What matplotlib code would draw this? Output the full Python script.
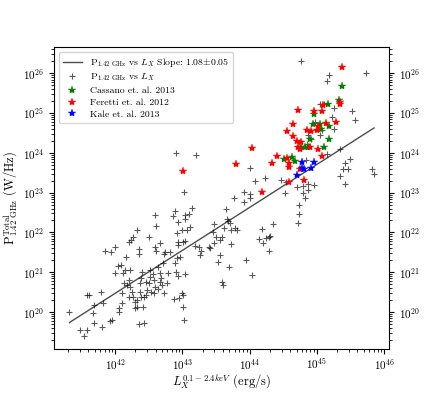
import numpy as np
import matplotlib
matplotlib.use("Agg")
import matplotlib.pyplot as plt

# log10 values
# radio halo / relic sample: log10 L_X (erg/s) and log10 P_1.4GHz (W/Hz)
lx_all = [
    41.32, 41.48, 41.58, 41.53, 41.58, 41.61, 41.67, 41.68, 41.69, 41.79,
    41.82, 41.81, 41.85, 41.94, 41.99, 41.93, 41.95, 41.99, 42.04, 42.09,
    42.10, 42.10, 42.05, 42.06, 42.12, 42.15, 42.16, 42.22, 42.13, 42.18,
    42.20, 42.22, 42.21, 42.25, 42.27, 42.30, 42.32, 42.30, 42.32, 42.37,
    42.37, 42.38, 42.21, 42.23, 42.27, 42.33, 42.36, 42.36, 42.36, 42.43,
    42.42, 42.43, 42.46, 42.47, 42.50, 42.46, 42.40, 42.38, 42.52, 42.58,
    42.59, 42.58, 42.53, 42.56, 42.52, 42.63, 42.59, 42.60, 42.51, 42.59,
    42.60, 42.64, 42.66, 42.67, 42.68, 42.71, 42.73, 42.73, 42.67, 42.74,
    42.81, 42.69, 42.77, 42.79, 42.86, 42.89, 42.91, 42.87, 42.89, 42.91,
    42.92, 42.92, 42.93, 42.94, 42.94, 42.93, 42.95, 42.99, 43.01, 43.03,
    43.01, 43.04, 42.97, 42.99, 43.01, 43.04, 43.04, 43.03, 43.07, 43.04,
    43.10, 43.12, 43.15, 43.20, 43.19, 43.24, 43.27, 43.26, 43.39, 43.41,
    43.45, 43.47, 43.47, 43.50, 43.53, 43.56, 43.56, 43.59, 43.60, 43.59,
    43.62, 43.65, 43.67, 43.68, 43.69, 43.72, 43.71, 43.73, 43.77, 43.78,
    43.81, 43.91, 44.00, 44.00, 44.01, 43.91, 44.08, 44.14, 43.95, 44.03,
    44.23, 44.46, 44.54, 44.53, 44.70, 44.79, 44.87, 44.96, 44.87, 44.79,
    44.82, 44.74, 44.74, 44.72, 44.19, 44.35, 44.25, 44.29, 44.31, 44.20,
    44.29, 44.77, 45.18, 45.15, 45.73, 45.05, 45.11, 45.25, 45.22, 45.52,
    45.56, 44.97, 45.07, 45.26, 44.87, 44.92, 44.86, 45.04, 44.84, 45.34,
    45.15, 45.49, 45.42, 45.39, 45.47, 45.34, 45.42, 45.82, 45.85,
]
p_all = [
    20.01, 19.55, 19.55, 19.40, 20.43, 20.43, 19.97, 20.18, 19.73, 20.50,
    20.23, 19.63, 21.53, 21.50, 21.64, 19.78, 19.80, 20.97, 21.16, 21.18,
    20.47, 20.22, 20.09, 20.01, 20.97, 21.06, 21.39, 21.06, 20.72, 20.68,
    20.38, 20.64, 20.80, 20.51, 20.38, 20.26, 20.13, 20.09, 20.30, 20.74,
    20.51, 20.38, 21.77, 21.81, 21.89, 22.06, 21.58, 21.47, 19.69, 19.72,
    20.13, 20.37, 20.43, 20.55, 20.74, 20.76, 21.01, 20.85, 21.06, 20.80,
    20.64, 20.49, 20.51, 20.95, 20.89, 20.57, 22.44, 22.16, 21.89, 21.64,
    21.54, 21.14, 20.97, 20.76, 20.85, 21.22, 21.47, 20.49, 21.73, 21.52,
    21.52, 20.68, 20.74, 20.97, 22.41, 22.54, 23.99, 20.33, 21.22, 21.01,
    21.35, 21.98, 22.27, 21.77, 21.68, 20.90, 20.34, 20.49, 20.13, 19.80,
    20.44, 20.95, 21.39, 22.06, 21.77, 22.35, 22.45, 23.02, 22.06, 21.78,
    22.46, 22.14, 22.61, 23.94, 21.67, 21.64, 21.54, 21.43, 21.64, 21.60,
    22.02, 22.21, 21.73, 21.89, 21.26, 21.81, 21.43, 21.89, 20.68, 20.76,
    22.10, 22.58, 22.35, 22.29, 21.14, 21.71, 22.23, 22.06, 22.86, 22.10,
    22.06, 23.02, 23.62, 22.96, 22.86, 22.77, 23.30, 21.83, 21.31, 20.93,
    23.38, 23.33, 23.26, 22.98, 23.15, 23.17, 23.21, 23.19, 23.08, 23.00,
    22.86, 22.69, 22.46, 22.24, 22.09, 22.21, 21.87, 21.89, 21.91, 21.73,
    21.54, 26.31, 25.97, 25.80, 26.00, 25.24, 25.24, 25.14, 24.91, 25.05,
    24.84, 24.78, 24.57, 24.59, 24.45, 24.35, 24.22, 24.45, 23.82, 24.10,
    23.97, 23.84, 23.74, 23.59, 23.59, 23.42, 23.23, 23.59, 23.48,
]

# Cassano et al. 2013
lx_cassano = [45.37, 45.33, 45.16, 44.96, 44.94, 45.04, 45.06, 45.18, 45.18,
              44.90, 44.77, 44.82, 44.87, 45.11, 44.51, 44.63, 44.67]
p_cassano = [25.69, 25.33, 25.24, 24.99, 24.72, 24.72, 24.60, 24.67, 24.34,
             24.36, 24.15, 24.14, 24.15, 24.15, 23.86, 23.90, 23.79]

# Feretti et al. 2012
lx_feretti = [45.38, 44.72, 44.95, 45.07, 45.34, 45.34, 45.09, 44.65, 44.56,
              44.65, 44.85, 44.92, 45.00, 45.02, 45.13, 45.28, 44.70, 44.77,
              44.72, 44.75, 44.90, 45.01, 45.07, 44.41, 44.34, 44.56, 44.58,
              44.58, 44.75, 44.81, 44.58, 44.19, 44.03, 43.79, 43.01]
p_feretti = [26.16, 25.08, 25.05, 25.05, 25.28, 25.22, 25.20, 24.74, 24.56,
             24.43, 24.57, 24.56, 24.57, 24.67, 24.76, 24.78, 24.30, 24.28,
             24.15, 24.11, 24.15, 24.09, 23.92, 23.92, 23.75, 23.88, 23.75,
             23.64, 23.59, 23.33, 23.27, 23.03, 24.13, 23.72, 23.54]

# Kale et al. 2013
lx_kale = [44.78, 44.78, 44.95, 44.81, 44.91, 44.71]
p_kale = [23.77, 23.63, 23.77, 23.59, 23.61, 23.44]

fit_slope = 1.08
fit_intercept = -24.89

plt.rcParams.update({
    "font.family": "serif",
    "font.serif": ["cmr10"],
    "mathtext.fontset": "cm",
    "axes.formatter.use_mathtext": True,
    "font.size": 8,
})

fig = plt.figure(figsize=(4.32, 3.93), dpi=100)
ax = fig.add_axes([0.125, 0.112, 0.775, 0.768])

lx = 10 ** np.array(lx_all)
p = 10 ** np.array(p_all)

xfit = np.array([min(lx_all), max(lx_all)])
yfit = fit_slope * xfit + fit_intercept
ax.plot(10 ** xfit, 10 ** yfit, color="0.3", lw=1.0, zorder=2,
        label=r"P$_{1.42\ \rm GHz}$ vs $L_X$ Slope: 1.08$\pm$0.05")
ax.plot(lx, p, "+", color="k", alpha=0.65, ms=4.5, mew=0.8, zorder=3,
        label=r"P$_{1.42\ \rm GHz}$ vs $L_X$")
ax.plot(10 ** np.array(lx_cassano), 10 ** np.array(p_cassano), "*", color="green",
        ms=6, mew=0.3, zorder=4, label="Cassano et. al. 2013")
ax.plot(10 ** np.array(lx_feretti), 10 ** np.array(p_feretti), "*", color="red",
        ms=6, mew=0.3, zorder=4, label="Feretti et. al. 2012")
ax.plot(10 ** np.array(lx_kale), 10 ** np.array(p_kale), "*", color="blue",
        ms=6, mew=0.3, zorder=5, label="Kale et. al. 2013")

ax.set_xscale("log")
ax.set_yscale("log")
ax.set_xlim(10 ** 41.09, 10 ** 46.07)
ax.set_ylim(10 ** 19.07, 10 ** 26.66)
ax.set_xticks([1e42, 1e43, 1e44, 1e45, 1e46])
ax.set_yticks([1e20, 1e21, 1e22, 1e23, 1e24, 1e25, 1e26])
ax.tick_params(which="both", right=True, labelright=True, labelsize=8)
ax.tick_params(axis="x", pad=2.5)

ax.set_xlabel(r"$L_X^{0.1-2.4keV}$ (erg/s)", fontsize=9, labelpad=0)
ax.set_ylabel(r"P$^{\rm Total}_{1.42\ \rm GHz}$ (W/Hz)", fontsize=9, labelpad=2)

ax.legend(loc="upper left", fontsize=7, numpoints=1, handlelength=2.0,
          borderpad=0.4, labelspacing=0.3, framealpha=0.8)

fig.savefig("out.png", dpi=100)
